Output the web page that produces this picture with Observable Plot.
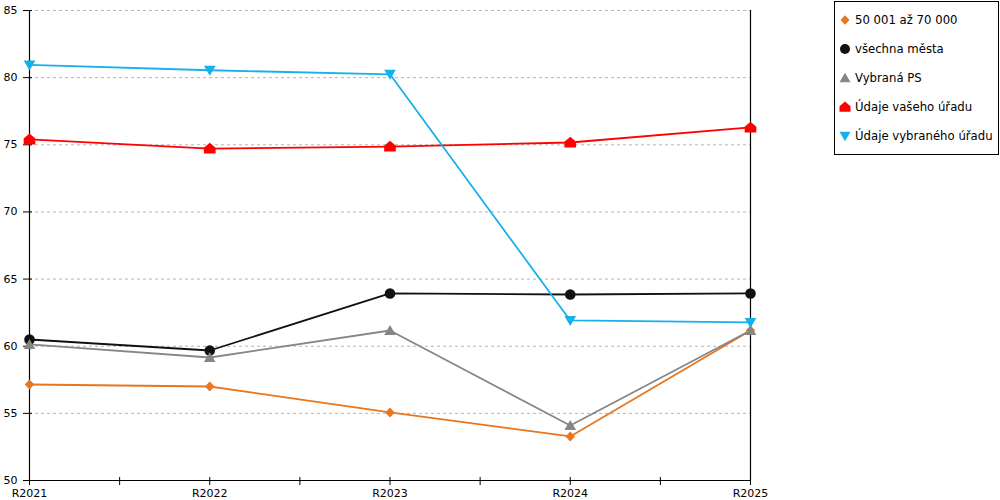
<!DOCTYPE html>
<html><head><meta charset="utf-8">
<script src="https://cdn.jsdelivr.net/npm/d3@7"></script>
<script src="https://cdn.jsdelivr.net/npm/@observablehq/plot@0.6"></script>
<style>
body{margin:0;background:#fff;font-family:"DejaVu Sans",Verdana,sans-serif;}
#wrap{position:relative;width:1000px;height:500px;}
#wrap svg.chart{position:absolute;left:0;top:0;}
#legend{position:absolute;left:834px;top:1px;width:163px;height:152px;border:1px solid #000;font-size:11.7px;color:#000;background:#fff;}
.item{position:absolute;left:4px;display:flex;align-items:center;height:16px;white-space:nowrap;}
.item svg{margin-right:4px;}
</style></head><body><div id="wrap"></div>
<script>
const years = ["R2021", "R2022", "R2023", "R2024", "R2025"];
const seriesNames = ["50 001 až 70 000", "všechna města", "Vybraná PS", "Údaje vašeho úřadu", "Údaje vybraného úřadu"];
const s50k = [57.15, 57.0, 55.07, 53.28, 61.17];
const sAll = [60.5, 59.68, 63.93, 63.85, 63.93];
const sPS = [60.13, 59.16, 61.17, 54.1, 61.17];
const sYour = [75.4, 74.72, 74.87, 75.17, 76.29];
const sSel = [80.95, 80.55, 80.25, 61.92, 61.77];
const yTicks = [50, 55, 60, 65, 70, 75, 80, 85];

const colors = ["#e8761e", "#111111", "#868686", "#ff0000", "#16b1ec"];

// custom symbols
const rOf = s => Math.sqrt(s / Math.PI);
const symDiamond = {draw(c, s){const r=rOf(s); c.moveTo(0,-r*0.95); c.lineTo(r*0.9,0); c.lineTo(0,r*0.95); c.lineTo(-r*0.9,0); c.closePath();}};
const symCircle = {draw(c, s){const r=rOf(s); c.moveTo(r,0); c.arc(0,0,r,0,2*Math.PI);}};
const symUp = {draw(c, s){const r=rOf(s); c.moveTo(0,-r*1.05); c.lineTo(r*1.1,r*0.85); c.lineTo(-r*1.1,r*0.85); c.closePath();}};
const symHouse = {draw(c, s){const r=rOf(s); c.moveTo(0,-r*1.1); c.lineTo(r*1.1,-r*0.15); c.lineTo(r*1.1,r*0.95); c.lineTo(-r*1.1,r*0.95); c.lineTo(-r*1.1,-r*0.15); c.closePath();}};
const symDown = {draw(c, s){const r=rOf(s); c.moveTo(0,r*1.05); c.lineTo(r*1.1,-r*0.85); c.lineTo(-r*1.1,-r*0.85); c.closePath();}};
const symbols = [symDiamond, symCircle, symUp, symHouse, symDown];

const allSeries = [s50k, sAll, sPS, sYour, sSel];
const tables = allSeries.map(vals => vals.map((v, i) => ({i, v})));

const idx = years.map((_, i) => i);
const minor = idx.slice(1).map(i => i - 0.5);
const xTickPos = idx.concat(minor);

const marks = [
  Plot.gridY(yTicks, {stroke: "#b4b4b4", strokeOpacity: 1, strokeDasharray: "3,3"}),
  Plot.axisY(yTicks, {tickSize: 0, tickPadding: 12, fontSize: 11, label: null}),
  Plot.axisX(idx, {tickSize: 0, tickPadding: 9, fontSize: 11, label: null, tickFormat: i => years[i]}),
  // tick marks crossing the axes
  Plot.ruleY(yTicks, {y: d => d, x1: 0, x2: 0, insetLeft: -6, insetRight: -3, stroke: "#000"}),
  Plot.ruleX(xTickPos, {x: d => d, y1: 50, y2: 50, insetTop: -3, insetBottom: -5, stroke: "#000"}),
  Plot.ruleX([0, 4], {y1: 50, y2: 85, stroke: "#000", strokeWidth: 1.2}),
  Plot.ruleY([50], {x1: 0, x2: 4, stroke: "#000", strokeWidth: 1.2}),
];

tables.forEach((t, k) => {
  marks.push(Plot.line(t, {x: "i", y: "v", stroke: colors[k], strokeWidth: 1.8}));
});
tables.forEach((t, k) => {
  marks.push(Plot.dot(t, {x: "i", y: "v", fill: colors[k], stroke: "none", r: 5.3, symbol: symbols[k]}));
});

const chart = Plot.plot({
  width: 1000, height: 500,
  marginLeft: 29, marginRight: 250, marginTop: 10, marginBottom: 20,
  x: {type: "linear", domain: [0, 4], axis: null},
  y: {domain: [50, 85], axis: null},
  style: {fontFamily: "'DejaVu Sans', Verdana, sans-serif", fontSize: "11px", color: "#000", background: "#fff"},
  marks
});
chart.classList.add("chart");
const wrap = document.getElementById("wrap");
wrap.appendChild(chart);

// legend
const legend = document.createElement("div");
legend.id = "legend";
const rowTops = [10, 39, 68, 97, 126];
seriesNames.forEach((name, k) => {
  const item = document.createElement("div");
  item.className = "item";
  item.style.top = rowTops[k] + "px";
  const svg = d3.create("svg").attr("width", 12).attr("height", 14);
  const p = d3.path();
  symbols[k].draw(p, 25 * Math.PI);
  svg.append("path").attr("d", p.toString()).attr("transform", "translate(6,7)").attr("fill", colors[k]);
  item.appendChild(svg.node());
  const span = document.createElement("span");
  span.textContent = name;
  item.appendChild(span);
  legend.appendChild(item);
});
wrap.appendChild(legend);
</script></body></html>
